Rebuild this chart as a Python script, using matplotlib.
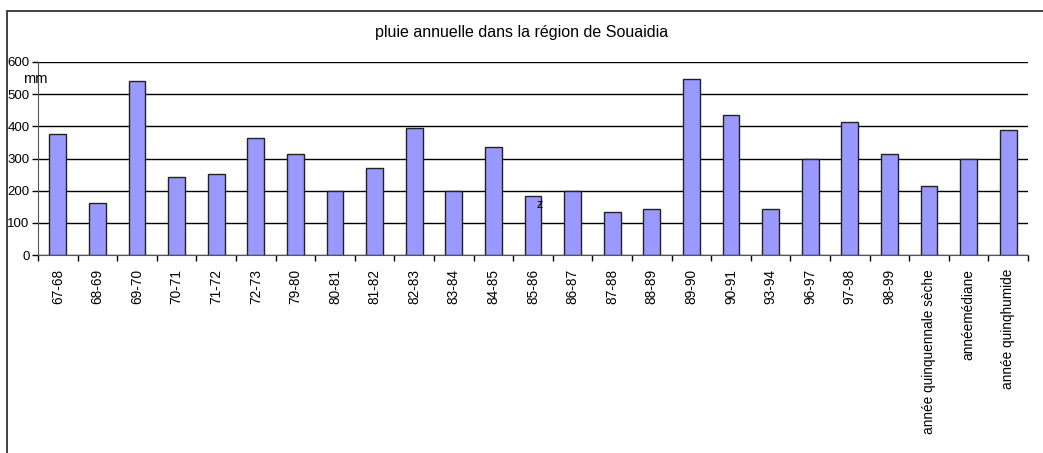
import numpy as np
import matplotlib.pyplot as plt
from matplotlib.patches import Rectangle

plt.rcParams['font.family'] = ['Liberation Sans', 'DejaVu Sans']

# pluie annuelle (mm) par campagne agricole
annees = ["67-68", "68-69", "69-70", "70-71", "71-72", "72-73", "79-80", "80-81",
          "81-82", "82-83", "83-84", "84-85", "85-86", "86-87", "87-88", "88-89",
          "89-90", "90-91", "93-94", "96-97", "97-98", "98-99",
          "année quinquennale sèche", "annéemédiane", "année quinqhumide"]
pluie = [377, 163, 542, 242, 251, 365, 315, 198,
         272, 395, 198, 336, 184, 198, 135, 142,
         546, 436, 142, 300, 412, 313,
         214, 300, 390]
yticks = [0, 100, 200, 300, 400, 500, 600]

fig = plt.figure(figsize=(10.43, 4.53), dpi=100)
ax = fig.add_axes([38 / 1043, 1 - 255 / 453, 990 / 1043, 193 / 453])

x = np.arange(len(annees))
ax.bar(x, pluie, width=0.42, color='#9999ff', edgecolor='#222222', linewidth=1.0, zorder=3)

ax.set_xlim(-0.5, len(annees) - 0.5)
ax.set_ylim(0, 600)
ax.set_yticks(yticks)
ax.set_yticklabels([str(v) for v in yticks], fontsize=9.5)
ax.yaxis.grid(True, color='black', linewidth=1.0, zorder=0)

# graduations entre les catégories, étiquettes au centre
ax.set_xticks(np.arange(len(annees) + 1) - 0.5)
ax.set_xticklabels([])
ax.set_xticks(x, minor=True)
ax.set_xticklabels(annees, minor=True, rotation=90, fontsize=9.8, va='top')
ax.tick_params(axis='x', which='minor', length=0, pad=10)
ax.tick_params(axis='x', which='major', length=4, width=1, direction='out')
ax.tick_params(axis='y', length=4, width=1, direction='out', pad=2)

for side in ['top', 'right']:
    ax.spines[side].set_visible(False)
ax.spines['left'].set_color('#555555')
ax.spines['bottom'].set_color('#555555')

ax.text(12.1, 154, 'z', fontsize=9, va='center', ha='left', zorder=4)

fig.text(522 / 1043, 1 - 33 / 453, 'pluie annuelle dans la région de Souaidia',
         ha='center', va='center', fontsize=11.5)
fig.text(35 / 1043, 1 - 79 / 453, 'mm', ha='center', va='center', fontsize=10.5)

# cadre du graphique
fig.patches.append(Rectangle((7 / 1043, -0.1), 1.2, 0.1 + (1 - 11 / 453),
                             transform=fig.transFigure, fill=False,
                             edgecolor='#333333', linewidth=1.3))

fig.savefig('out.png', dpi=100)
